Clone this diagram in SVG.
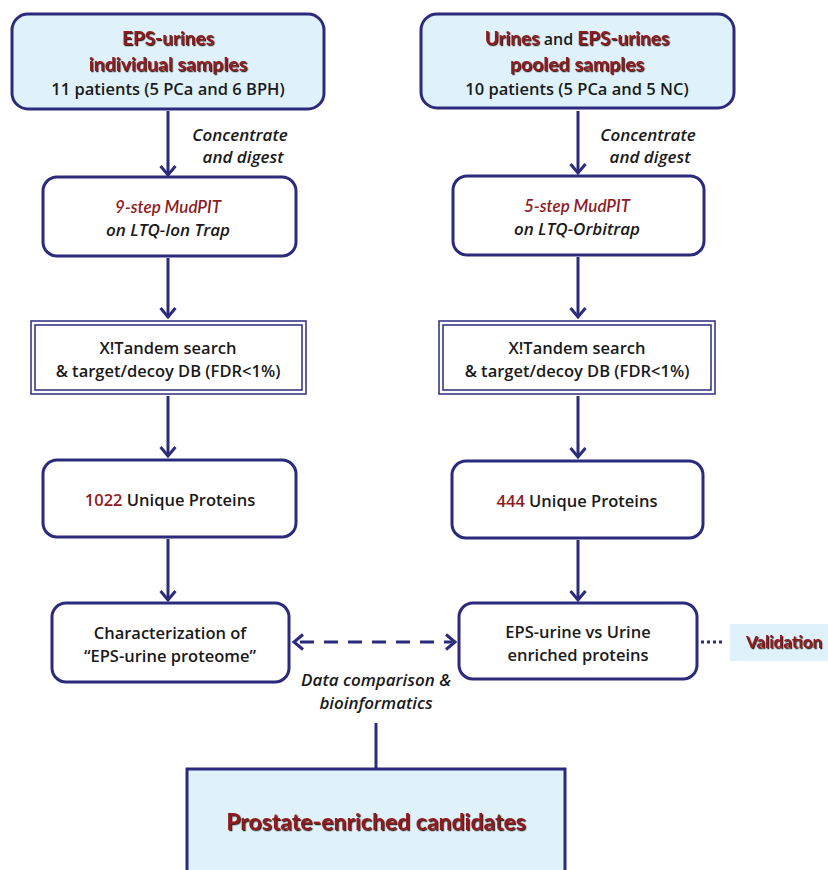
<svg xmlns="http://www.w3.org/2000/svg" width="828" height="870" viewBox="0 0 828 870">
<style>
.box{fill:#ffffff;stroke:#2c2a7c;stroke-width:3}
.blue{fill:#dff2fa;stroke:#2c2a7c;stroke-width:3}
.thin{fill:none;stroke:#2c2a7c;stroke-width:1.5}
.conn{stroke:#2c2a7c;stroke-width:3;fill:none}
text{font-family:"Open Sans","Liberation Sans",sans-serif;text-anchor:middle;fill:#1a1a1a}
.red{fill:#8e1b1f;font-weight:bold;font-family:Lato,"Liberation Sans",sans-serif}
.sh{filter:url(#shadow)}
.it{font-style:italic;font-weight:600;font-size:17px}
.reg{font-size:16.5px;font-weight:600}
</style>
<defs>
<marker id="chev" markerUnits="userSpaceOnUse" markerWidth="20" markerHeight="20" viewBox="-12 -10 14 20" refX="0" refY="0" orient="auto" overflow="visible">
<path d="M-9,-7.5 L0,0 L-9,7.5" fill="none" stroke="#2c2a7c" stroke-width="3"/>
</marker>
<filter id="shadow" x="-10%" y="-20%" width="120%" height="150%">
<feDropShadow dx="1.2" dy="1.2" stdDeviation="0.4" flood-color="#2a1010" flood-opacity="0.9"/>
</filter>
</defs>

<g id="connectors">
<line class="conn" x1="168" y1="111" x2="168" y2="175" marker-end="url(#chev)"/>
<line class="conn" x1="168" y1="258" x2="168" y2="317" marker-end="url(#chev)"/>
<line class="conn" x1="168" y1="396" x2="168" y2="456" marker-end="url(#chev)"/>
<line class="conn" x1="168" y1="539" x2="168" y2="600" marker-end="url(#chev)"/>
<line class="conn" x1="578" y1="111" x2="578" y2="173" marker-end="url(#chev)"/>
<line class="conn" x1="578" y1="257" x2="578" y2="317" marker-end="url(#chev)"/>
<line class="conn" x1="578" y1="396" x2="578" y2="457" marker-end="url(#chev)"/>
<line class="conn" x1="578" y1="540" x2="578" y2="600" marker-end="url(#chev)"/>
<line class="conn" x1="296" y1="642" x2="452" y2="642" stroke-dasharray="14 10" stroke-dashoffset="-4"/>
<path d="M303,634.5 L294,642 L303,649.5" fill="none" stroke="#2c2a7c" stroke-width="3"/>
<path d="M446,634.5 L455,642 L446,649.5" fill="none" stroke="#2c2a7c" stroke-width="3"/>
<line class="conn" x1="701" y1="642" x2="724" y2="642" stroke-dasharray="3 3"/>
<line class="conn" x1="376" y1="723" x2="376" y2="769"/>
<text class="it" x="240" y="141">Concentrate</text>
<text class="it" x="243" y="163">and digest</text>
<text class="it" x="648" y="141">Concentrate</text>
<text class="it" x="650" y="163">and digest</text>
<text class="it" x="376" y="686">Data comparison &amp;</text>
<text class="it" x="376" y="709">bioinformatics</text>
</g>

<g id="eps-individual">
<rect class="blue" x="12" y="14" width="312" height="95" rx="16"/>
<text class="red sh" x="168" y="45" font-size="19">EPS-urines</text>
<text class="red sh" x="168" y="71" font-size="19.5">individual samples</text>
<text class="reg" x="168" y="95">11 patients (5 PCa and 6 BPH)</text>
</g>

<g id="pooled">
<rect class="blue" x="421" y="14" width="313" height="94" rx="16"/>
<text x="577" y="45" font-size="19"><tspan class="red sh">Urines</tspan><tspan font-size="16" font-weight="600"> and </tspan><tspan class="red sh">EPS-urines</tspan></text>
<text class="red sh" x="577" y="71" font-size="19.5">pooled samples</text>
<text class="reg" x="577" y="95">10 patients (5 PCa and 5 NC)</text>
</g>

<g id="mudpit9">
<rect class="box" x="43" y="177" width="253" height="79" rx="14"/>
<text class="it red" x="168" y="213" font-size="19" font-family="Open Sans, sans-serif" font-weight="600">9-step MudPIT</text>
<text class="it" x="168" y="236" font-size="18.5">on LTQ-Ion Trap</text>
</g>

<g id="mudpit5">
<rect class="box" x="453" y="176" width="251" height="79" rx="14"/>
<text class="it red" x="577" y="212" font-size="19" font-family="Open Sans, sans-serif" font-weight="600">5-step MudPIT</text>
<text class="it" x="577" y="235" font-size="18.5">on LTQ-Orbitrap</text>
</g>

<g id="xtandem-left">
<rect class="thin" x="31" y="321" width="275" height="73"/>
<rect class="thin" x="35" y="325" width="267" height="65"/>
<text class="reg" x="168" y="354">X!Tandem search</text>
<text class="reg" x="168" y="377">&amp; target/decoy DB (FDR&lt;1%)</text>
</g>

<g id="xtandem-right">
<rect class="thin" x="439" y="321" width="276" height="73"/>
<rect class="thin" x="443" y="325" width="268" height="65"/>
<text class="reg" x="577" y="354">X!Tandem search</text>
<text class="reg" x="577" y="377">&amp; target/decoy DB (FDR&lt;1%)</text>
</g>

<g id="proteins1022">
<rect class="box" x="43" y="460" width="253" height="77" rx="14"/>
<text class="reg" x="170" y="506"><tspan fill="#8e1b1f">1022</tspan> Unique Proteins</text>
</g>

<g id="proteins444">
<rect class="box" x="452" y="461" width="251" height="77" rx="14"/>
<text class="reg" x="577" y="507"><tspan fill="#8e1b1f">444</tspan> Unique Proteins</text>
</g>

<g id="characterization">
<rect class="box" x="52" y="603" width="237" height="79" rx="14"/>
<text class="reg" x="170" y="639">Characterization of</text>
<text class="reg" x="170" y="662">“EPS-urine proteome”</text>
</g>

<g id="enriched">
<rect class="box" x="459" y="603" width="238" height="76" rx="14"/>
<text class="reg" x="578" y="638">EPS-urine vs Urine</text>
<text class="reg" x="578" y="661">enriched proteins</text>
</g>

<g id="validation">
<rect x="730" y="624" width="100" height="37" fill="#dff2fa"/>
<text class="red sh" x="784" y="648" font-size="17">Validation</text>
</g>

<g id="candidates">
<rect class="blue" x="187" y="769" width="378" height="120" stroke-width="4.5"/>
<text class="red sh" x="376" y="830" font-size="23">Prostate-enriched candidates</text>
</g>
</svg>
